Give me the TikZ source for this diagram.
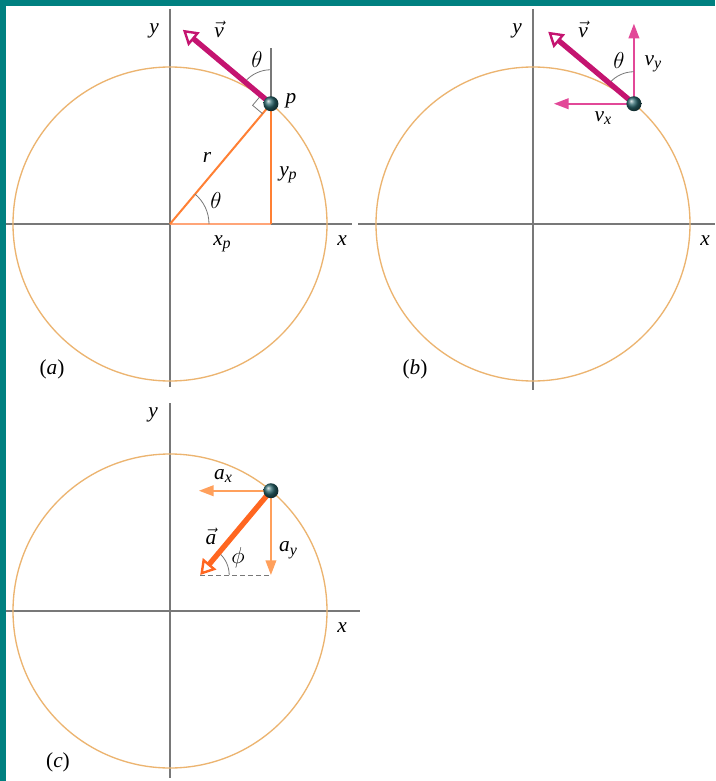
\documentclass[tikz,border=0pt]{standalone}
\usepackage{fontspec}
\setmainfont{Liberation Serif}
\usetikzlibrary{arrows.meta,calc}
\definecolor{framec}{RGB}{0,128,128}
\definecolor{orbitc}{RGB}{236,180,112}
\definecolor{axisc}{RGB}{120,120,120}
\definecolor{velc}{RGB}{196,20,112}
\definecolor{velcomp}{RGB}{226,72,152}
\definecolor{accc}{RGB}{255,102,32}
\definecolor{acccomp}{RGB}{255,160,92}
\definecolor{rlinec}{RGB}{255,128,52}
\definecolor{xplinec}{RGB}{255,165,120}
\definecolor{ballc}{RGB}{40,100,106}
\newcommand{\vecl}[1]{$\vec{\hbox{\itshape #1}}$}
\newcommand{\subl}[2]{\textit{#1}\raisebox{-0.35ex}{\fontsize{12}{12}\selectfont\textit{#2}}}
\begin{document}
\begin{tikzpicture}[x=0.75pt,y=0.75pt,
  lbl/.style={font=\fontsize{16}{18}\selectfont\itshape, inner sep=0pt},
  axisline/.style={draw=axisc,line width=1.1pt},
  thinline/.style={draw=axisc,line width=0.9pt},
  orbit/.style={draw=orbitc,line width=1pt},
  anglearc/.style={draw=axisc,line width=0.6pt},
  bigvec/.style={line width=4pt,-{Triangle[open,length=11pt,width=13pt,line width=1.8pt]}},
  comp/.style={line width=1.3pt,-{Triangle[length=11pt,width=8pt]}},
  ballst/.style={ball color=ballc}
]
\useasboundingbox (0,0) rectangle (715,-781);
\fill[white] (0,0) rectangle (715,-781);
\fill[framec] (0,0) rectangle (715,-6);
\fill[framec] (0,0) rectangle (6,-781);

% ---------------- panel (a)
\coordinate (Oa) at (170,-224);
\coordinate (axL) at (6,-224); \coordinate (axR) at (352,-224);
\coordinate (ayT) at (170,-9); \coordinate (ayB) at (170,-387);
\draw[axisline] (axL) -- (axR);
\draw[axisline] (ayT) -- (ayB);
\draw[orbit] (Oa) circle[radius=157];
\coordinate (Pa) at ($(Oa)+(50:157)$);
\coordinate (Fa) at (Pa |- Oa);
\draw[draw=xplinec,line width=2.2pt] (Oa) -- (Fa);
\draw[draw=rlinec,line width=1.5pt] (Oa) -- (Pa);
\draw[draw=rlinec,line width=1.5pt] (Pa) -- (Fa);
\draw[anglearc] ($(Oa)+(39,0)$) arc[start angle=0,end angle=50,radius=39];
\coordinate (Va) at ($(Pa)+(0,56)$);
\draw[thinline] (Pa) -- (Va);
\draw[anglearc] ($(Pa)+(90:34)$) arc[start angle=90,end angle=140,radius=34];
\draw[anglearc] ($(Pa)+(140:13)$) -- ($(Pa)+(140:13)+(230:13)$) -- ($(Pa)+(230:13)$);
\coordinate (VTa) at ($(Pa)+(140:115)$);
\draw[velc,bigvec] (Pa) -- (VTa);
\shade[ballst] (Pa) circle[radius=7.5];
\node[lbl] (ya) at (154,-31) {y};
\node[lbl] (va) at (219,-29) {\vecl{v}};
\node[lbl] (tha) at (257,-60) {$\theta$};
\node[lbl] (pa) at (291,-101) {p};
\node[lbl] (ra) at (207,-157) {r};
\node[lbl] (thb) at (216,-200) {$\theta$};
\node[lbl] (ypa) at (288,-175) {\subl{y}{p}};
\node[lbl] (xpa) at (222,-244) {\subl{x}{p}};
\node[lbl] (xa) at (342,-241) {x};
\node[lbl] (la) at (52,-369) {\upshape(\textit{a})};

% ---------------- panel (b)
\coordinate (Ob) at (533,-224);
\coordinate (bxL) at (358,-224); \coordinate (bxR) at (715,-224);
\coordinate (byT) at (533,-9); \coordinate (byB) at (533,-390);
\draw[axisline] (bxL) -- (bxR);
\draw[axisline] (byT) -- (byB);
\draw[orbit] (Ob) circle[radius=157];
\coordinate (Pb) at ($(Ob)+(50:157)$);
\coordinate (VYb) at ($(Pb)+(0,80)$);
\coordinate (VXb) at ($(Pb)+(-80,0)$);
\draw[velcomp,comp] (Pb) -- (VYb);
\draw[velcomp,comp] (Pb) -- (VXb);
\draw[anglearc] ($(Pb)+(90:32)$) arc[start angle=90,end angle=140,radius=32];
\coordinate (VTb) at ($(Pb)+(140:112)$);
\draw[velc,bigvec] (Pb) -- (VTb);
\shade[ballst] (Pb) circle[radius=7.5];
\node[lbl] (yb) at (517,-31) {y};
\node[lbl] (vb) at (583,-29) {\vecl{v}};
\node[lbl] (thbb) at (619,-61) {$\theta$};
\node[lbl] (vyb) at (653,-64) {\subl{v}{y}};
\node[lbl] (vxb) at (603,-118) {\subl{v}{x}};
\node[lbl] (xb) at (705,-241) {x};
\node[lbl] (lb) at (415,-369) {\upshape(\textit{b})};

% ---------------- panel (c)
\coordinate (Oc) at (170,-611);
\coordinate (cxL) at (6,-611); \coordinate (cxR) at (360,-611);
\coordinate (cyT) at (170,-403); \coordinate (cyB) at (170,-778);
\draw[axisline] (cxL) -- (cxR);
\draw[axisline] (cyT) -- (cyB);
\draw[orbit] (Oc) circle[radius=157];
\coordinate (Pc) at ($(Oc)+(50:157)$);
\coordinate (At) at ($(Pc)+(230:110)$);
\coordinate (Ay) at (Pc |- At);
\coordinate (Ax) at ($(Pc)+(-72,0)$);
\draw[axisc,line width=0.7pt,dash pattern=on 3.5pt off 2.5pt] (At) -- (Ay);
\draw[anglearc] ($(At)+(29,0)$) arc[start angle=0,end angle=50,radius=29];
\draw[acccomp,comp] (Pc) -- (Ax);
\draw[acccomp,comp] (Pc) -- (Ay);
\draw[accc,bigvec] (Pc) -- (At);
\shade[ballst] (Pc) circle[radius=7.5];
\node[lbl] (yc) at (153,-415) {y};
\node[lbl] (axc) at (223,-476) {\subl{a}{x}};
\node[lbl] (ac) at (211,-536) {\vecl{a}};
\node[lbl] (phc) at (238,-558) {$\phi$};
\node[lbl] (ayc) at (288,-550) {\subl{a}{y}};
\node[lbl] (xc) at (342,-628) {x};
\node[lbl] (lc) at (58,-762) {\upshape(\textit{c})};
\end{tikzpicture}
\end{document}
